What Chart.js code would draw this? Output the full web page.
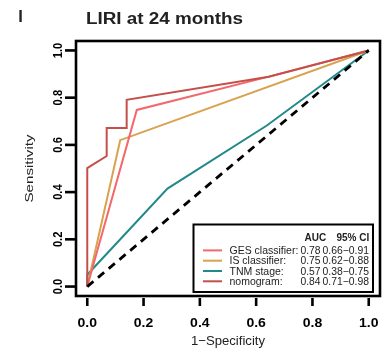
<!DOCTYPE html>
<html>
<head>
<meta charset="utf-8">
<script src="https://cdn.jsdelivr.net/npm/chart.js@4.4.1/dist/chart.umd.min.js"></script>
<style>
html,body{margin:0;padding:0;background:#fff;}
canvas{display:block;}
</style>
</head>
<body>
<canvas id="c" width="387" height="351"></canvas>
<script>
// ---- data ----
const seriesNames = ['GES classifier:', 'IS classifier:', 'TNM stage:', 'nomogram:'];
const aucValues = ['0.78', '0.75', '0.57', '0.84'];
const ciValues = ['0.66\u22120.91', '0.62\u22120.88', '0.38\u22120.75', '0.71\u22120.98'];

const gesFpr = [0, 0.176, 0.645, 1];
const gesTpr = [0, 0.748, 0.889, 1];
const isFpr = [0, 0.117, 1];
const isTpr = [0, 0.620, 1];
const tnmFpr = [0, 0, 0.285, 0.638, 1];
const tnmTpr = [0, 0.05, 0.415, 0.682, 1];
const nomoFpr = [0, 0, 0.069, 0.069, 0.140, 0.140, 0.645, 1];
const nomoTpr = [0, 0.502, 0.553, 0.672, 0.672, 0.791, 0.889, 1];
const refFpr = [0, 1];
const refTpr = [0, 1];

const xTickValues = [0, 0.2, 0.4, 0.6, 0.8, 1.0];
const xTickLabels = ['0.0', '0.2', '0.4', '0.6', '0.8', '1.0'];
const yTickValues = [0, 0.2, 0.4, 0.6, 0.8, 1.0];
const yTickLabels = ['0.0', '0.2', '0.4', '0.6', '0.8', '1.0'];

const colors = ['#F2686B', '#D9A24F', '#22898A', '#C4504A'];

function pts(xs, ys) { return xs.map((x, i) => ({x: x, y: ys[i]})); }

// text helper: draws text scaled along its direction to a target length
function txt(ctx, s, x, y, font, align, len, rot, color) {
  ctx.save();
  ctx.font = font;
  ctx.fillStyle = color || '#000';
  ctx.textBaseline = 'alphabetic';
  ctx.textAlign = align;
  const w = ctx.measureText(s).width;
  const k = len ? len / w : 1;
  ctx.translate(x, y);
  if (rot) ctx.rotate(rot);
  ctx.scale(k, 1);
  ctx.fillText(s, 0, 0);
  ctx.restore();
}

const decor = {
  id: 'decor',
  afterDraw(chart) {
    const ctx = chart.ctx;
    const a = chart.chartArea;
    const xs = chart.scales.x, ys = chart.scales.y;
    const F = '"Liberation Sans", Arial, Helvetica, sans-serif';
    ctx.save();
    // plot box
    ctx.strokeStyle = '#000';
    ctx.lineWidth = 2.6;
    ctx.strokeRect(a.left, a.top, a.right - a.left, a.bottom - a.top);
    // x ticks
    ctx.lineWidth = 2.6;
    ctx.lineCap = 'butt';
    xTickValues.forEach((v, i) => {
      const px = xs.getPixelForValue(v);
      ctx.beginPath(); ctx.moveTo(px, a.bottom + 2); ctx.lineTo(px, a.bottom + 10); ctx.stroke();
      txt(ctx, xTickLabels[i], px, 327, 'bold 12.5px ' + F, 'center', 19.5, 0, '#000');
    });
    // y ticks
    yTickValues.forEach((v, i) => {
      const py = ys.getPixelForValue(v);
      ctx.beginPath(); ctx.moveTo(a.left - 1, py); ctx.lineTo(a.left - 11, py); ctx.stroke();
      txt(ctx, yTickLabels[i], 61.8, py, 'bold 12px ' + F, 'center', 15.5, -Math.PI / 2, '#000');
    });
    // axis titles
    txt(ctx, '1\u2212Specificity', (xs.getPixelForValue(0) + xs.getPixelForValue(1)) / 2, 345, '13px ' + F, 'center', 74, 0, '#222');
    txt(ctx, 'Sensitivity', 32.5, (ys.getPixelForValue(0) + ys.getPixelForValue(1)) / 2, '11.5px ' + F, 'center', 68, -Math.PI / 2, '#222');
    // title and panel letter
    txt(ctx, 'I', 18.3, 21.7, 'bold 16px ' + F, 'left', 4.6, 0, '#222');
    txt(ctx, 'LIRI at 24 months', 86, 24, 'bold 16px ' + F, 'left', 157, 0, '#222');
    // legend
    const lx = 193.5, ly = 224.5, lw = 179.5, lh = 67.5;
    ctx.fillStyle = '#fff';
    ctx.fillRect(lx, ly, lw, lh);
    ctx.lineWidth = 2;
    ctx.strokeStyle = '#000';
    ctx.strokeRect(lx, ly, lw, lh);
    txt(ctx, 'AUC', 304.5, 240.7, 'bold 10px ' + F, 'left', 0, 0, '#222');
    txt(ctx, '95% CI', 336.5, 240.7, 'bold 10px ' + F, 'left', 0, 0, '#222');
    seriesNames.forEach((n, i) => {
      const by = 254 + i * 10.3;
      ctx.strokeStyle = colors[i];
      ctx.lineWidth = 2;
      ctx.beginPath(); ctx.moveTo(203, by - 3.6); ctx.lineTo(222, by - 3.6); ctx.stroke();
      txt(ctx, n, 229.5, by, '10.5px ' + F, 'left', 0, 0, '#222');
      txt(ctx, aucValues[i], 300.5, by, '10.3px ' + F, 'left', 0, 0, '#222');
      txt(ctx, ciValues[i], 322.5, by, '10.3px ' + F, 'left', 46.5, 0, '#222');
    });
    ctx.restore();
  }
};

const lineDs = (label, data, color, order) => ({
  label: label, data: data, borderColor: color, borderWidth: 2,
  pointRadius: 0, fill: false, tension: 0, order: order
});

new Chart(document.getElementById('c'), {
  type: 'line',
  data: {
    datasets: [
      Object.assign(lineDs('reference', pts(refFpr, refTpr), '#000', 0), {borderWidth: 2.8, borderDash: [8, 6]}),
      lineDs('nomogram', pts(nomoFpr, nomoTpr), colors[3], 1),
      lineDs('GES classifier', pts(gesFpr, gesTpr), colors[0], 2),
      lineDs('IS classifier', pts(isFpr, isTpr), colors[1], 3),
      lineDs('TNM stage', pts(tnmFpr, tnmTpr), colors[2], 4)
    ]
  },
  options: {
    responsive: false,
    animation: false,
    devicePixelRatio: 1,
    layout: {padding: {left: 76, right: 7, top: 41, bottom: 55}},
    plugins: {legend: {display: false}, tooltip: {enabled: false}, title: {display: false}},
    scales: {
      x: {type: 'linear', min: -0.04, max: 1.04, display: false},
      y: {type: 'linear', min: -0.04, max: 1.04, display: false}
    }
  },
  plugins: [decor]
});
</script>
</body>
</html>
